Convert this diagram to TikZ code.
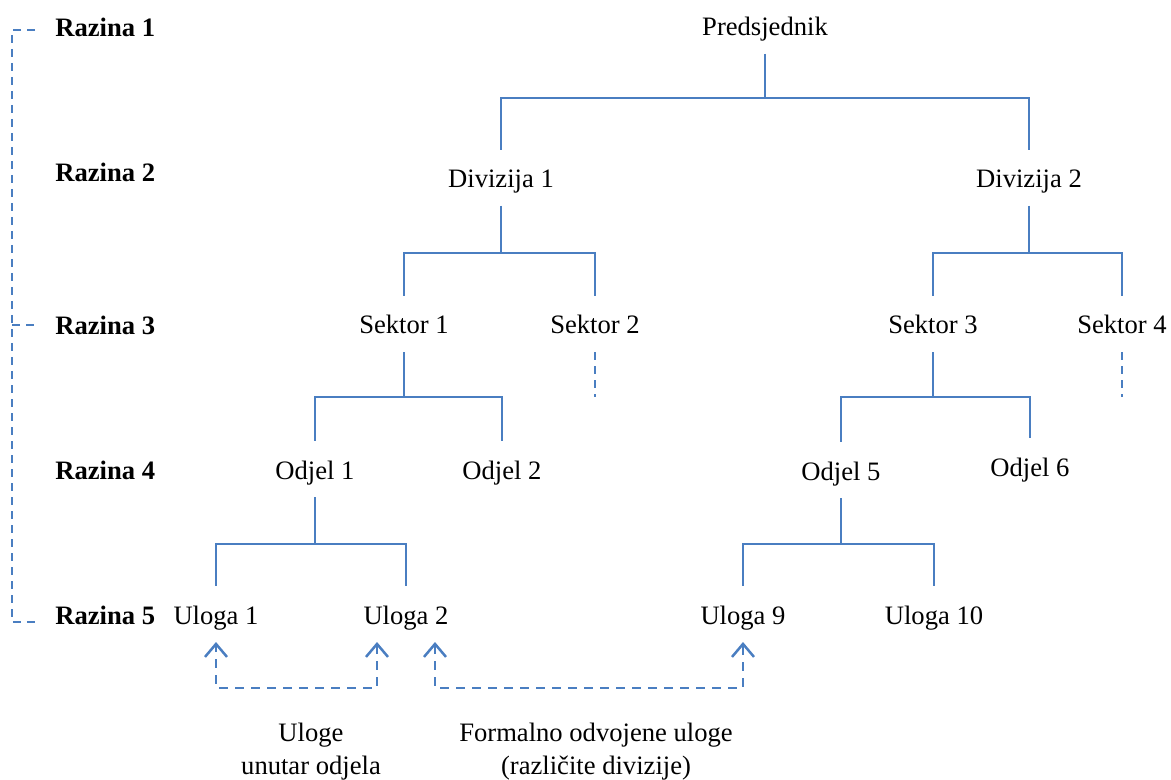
\documentclass[tikz,border=0pt]{standalone}
\usepackage{fontspec}
\setmainfont{Liberation Serif}
\usetikzlibrary{arrows.meta}
\definecolor{linkblue}{RGB}{74,126,193}
\begin{document}
\begin{tikzpicture}[x=0.5pt,y=-0.5pt,
  unit/.style={font=\fontsize{13.3}{16}\selectfont, inner sep=0pt,
    text height=10pt, text depth=0pt, outer ysep=9pt, anchor=base},
  level/.style={font=\fontsize{13.3}{16}\selectfont\bfseries, inner sep=0pt, anchor=base west},
  note/.style={font=\fontsize{13.3}{16.5}\selectfont, inner sep=0pt, anchor=north, align=center},
  link/.style={draw=linkblue, line width=1.1pt},
  open/.style={draw=linkblue, line width=1.1pt, dash pattern=on 4pt off 3pt},
  relate/.style={draw=linkblue, line width=1.25pt, dash pattern=on 4.5pt off 3.5pt,
    {Straight Barb[length=6.5pt,width=11pt,line width=1.25pt]}-{Straight Barb[length=6.5pt,width=11pt,line width=1.25pt]}}
]
\path[use as bounding box] (0,0) rectangle (1171,780);

% level labels
\node[level] (r1) at (55,37) {Razina 1};
\node[level] (r2) at (55,182) {Razina 2};
\node[level] (r3) at (55,335) {Razina 3};
\node[level] (r4) at (55,479) {Razina 4};
\node[level] (r5) at (55,624) {Razina 5};

% bracket grouping the levels
\draw[open] (35,30) -- (12,30) -- (12,622) -- (35,622);
\draw[open] (12,325) -- (35,325);

% organisational units
\node[unit] (pres) at (765,36) {Predsjednik};
\node[unit] (div1) at (501,188) {Divizija 1};
\node[unit] (div2) at (1029,188) {Divizija 2};
\node[unit] (sek1) at (404,334) {Sektor 1};
\node[unit] (sek2) at (595,334) {Sektor 2};
\node[unit] (sek3) at (933,334) {Sektor 3};
\node[unit] (sek4) at (1122,334) {Sektor 4};
\node[unit] (odj1) at (315,479) {Odjel 1};
\node[unit] (odj2) at (502,479) {Odjel 2};
\node[unit] (odj5) at (841,480) {Odjel 5};
\node[unit] (odj6) at (1030,476) {Odjel 6};
\node[unit] (u1) at (216,624) {Uloga 1};
\node[unit] (u2) at (406,624) {Uloga 2};
\node[unit] (u9) at (743,624) {Uloga 9};
\node[unit] (u10) at (934,624) {Uloga 10};

% hierarchy
\draw[link] (pres.south) -- ++(0,44) -| (div1.north);
\draw[link] (pres.south) -- ++(0,44) -| (div2.north);
\draw[link] (div1.south) -- ++(0,47) -| (sek1.north);
\draw[link] (div1.south) -- ++(0,47) -| (sek2.north);
\draw[link] (div2.south) -- ++(0,47) -| (sek3.north);
\draw[link] (div2.south) -- ++(0,47) -| (sek4.north);
\draw[link] (sek1.south) -- ++(0,45) -| (odj1.north);
\draw[link] (sek1.south) -- ++(0,45) -| (odj2.north);
\draw[link] (sek3.south) -- ++(0,45) -| (odj5.north);
\draw[link] (sek3.south) -- ++(0,45) -| (odj6.north);
\draw[link] (odj1.south) -- ++(0,47) -| (u1.north);
\draw[link] (odj1.south) -- ++(0,47) -| (u2.north);
\draw[link] (odj5.south) -- ++(0,46) -| (u9.north);
\draw[link] (odj5.south) -- ++(0,46) -| (u10.north);

% branches continuing below
\coordinate (sek2end) at (595,397);
\coordinate (sek4end) at (1122,397);
\draw[open] (sek2.south) -- (sek2end);
\draw[open] (sek4.south) -- (sek4end);

% relations between roles
\draw[relate] ([xshift=-14.5pt]u2.south) -- ++(0,46) -| (u1.south);
\draw[relate] ([xshift=14.5pt]u2.south) -- ++(0,46) -| (u9.south);

\node[note] (n1) at (311,723) {Uloge\\unutar odjela};
\node[note] (n2) at (596,723) {Formalno odvojene uloge\\(različite divizije)};
\end{tikzpicture}
\end{document}
